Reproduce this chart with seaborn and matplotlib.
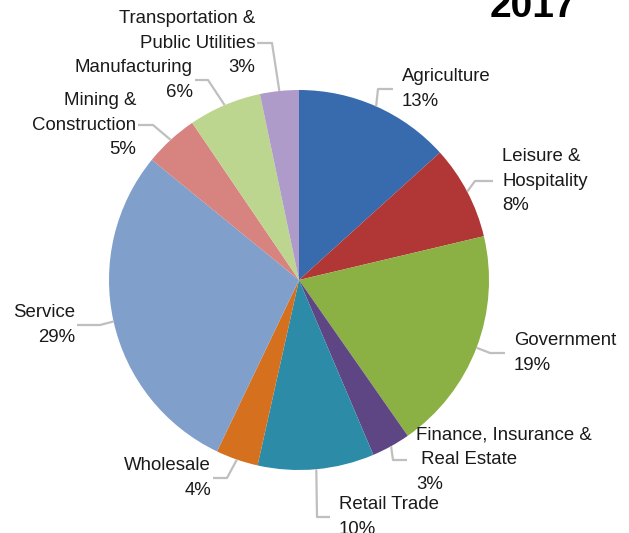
import numpy as np
import seaborn as sns
from matplotlib import pyplot as plt

# sector shares, 2017 (clockwise from 12 o'clock)
sectors = ['Agriculture', 'Leisure &\nHospitality', 'Government',
           'Finance, Insurance &\n Real Estate', 'Retail Trade', 'Wholesale',
           'Service', 'Mining &\nConstruction', 'Manufacturing',
           'Transportation &\nPublic Utilities']
shares = [13.3, 8.0, 19.0, 3.3, 9.9, 3.6, 28.8, 4.6, 6.2, 3.3]
colors = ['#376BAD', '#B03735', '#8BB043', '#5E4685', '#2C8BA6',
          '#D5701F', '#809FCA', '#D7837F', '#BCD690', '#AE9BC9']

# label layout in pixel units: (elbow x, elbow y from top, line end x)
W, H = 629, 533
cx, cy, R = 299, 280, 190
layout = [(378, 89, 393), (475, 181, 493), (490, 353, 505), (393, 460, 407),
          (317, 517, 330), (227, 478, 213), (100, 325, 77), (153, 125, 138),
          (208, 80, 195), (272, 43, 257)]

sns.set_theme(style='white')
plt.rcParams['font.family'] = ['Liberation Sans', 'DejaVu Sans']

fig = plt.figure(figsize=(W / 100, H / 100), dpi=100)
ax = fig.add_axes([0, 0, 1, 1])
pal = sns.color_palette(colors)
wedges, _ = ax.pie(shares, colors=pal, startangle=90, counterclock=False,
                   center=(cx, H - cy), radius=R,
                   wedgeprops={'linewidth': 0})
ax.set_xlim(0, W)
ax.set_ylim(0, H)
ax.set_aspect('equal')
ax.axis('off')

total = sum(shares)
cum = np.cumsum([0] + shares)
for i, (name, val) in enumerate(zip(sectors, shares)):
    mid = np.deg2rad((cum[i] + val / 2) / total * 360)
    sx, sy = cx + R * np.sin(mid), H - (cy - R * np.cos(mid))
    ex, ey, lx = layout[i]
    ey = H - ey
    ax.plot([sx, ex, lx], [sy, ey, ey], color='#BFBFBF', lw=1.6,
            solid_capstyle='butt')
    right = lx > ex
    tx = lx + 9 if right else lx - 2
    ax.text(tx, ey, f'{name}\n{round(val)}%', ha='left' if right else 'right',
            multialignment='left' if right else 'right',
            va='center', fontsize=13.4, color='#1A1A1A', linespacing=1.58)

ax.text(533, H - 17, '2017', ha='center', va='baseline', fontsize=28,
        fontweight='bold', color='black')

fig.savefig('out.png', dpi=100)
